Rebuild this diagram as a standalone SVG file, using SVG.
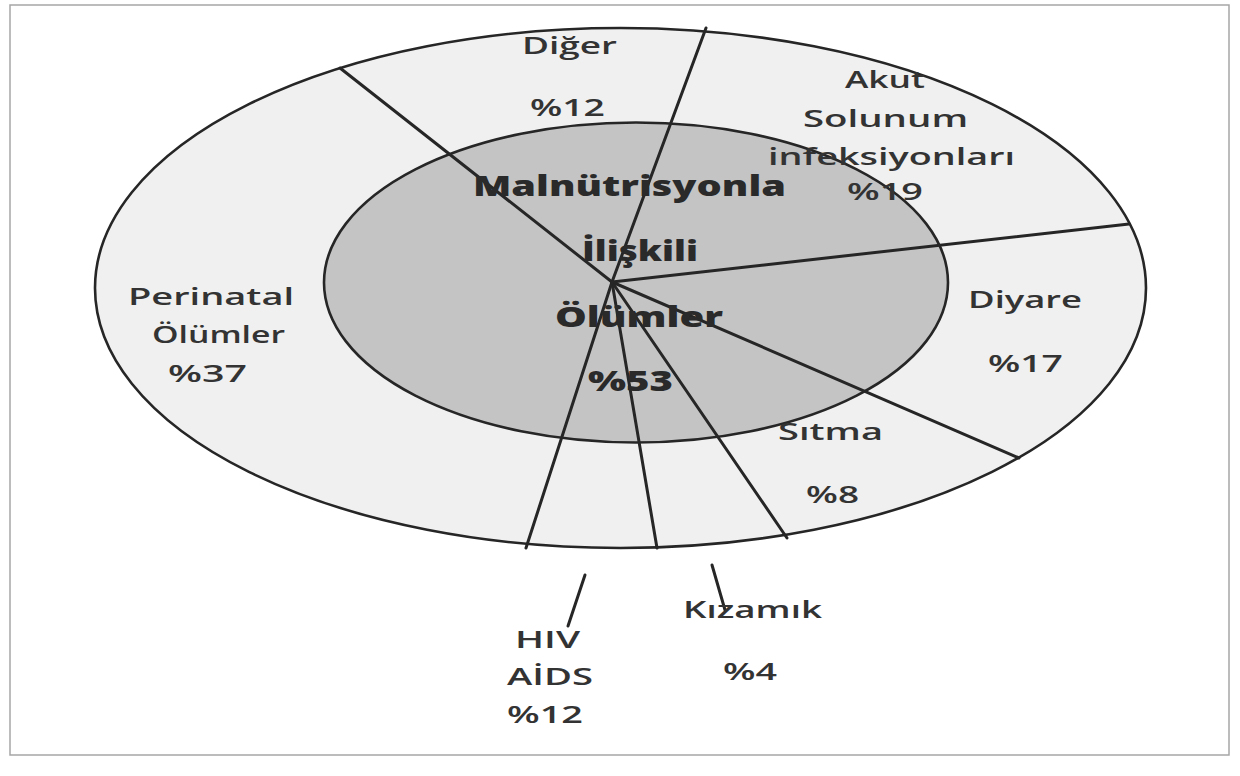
<svg xmlns="http://www.w3.org/2000/svg" width="1240" height="776" viewBox="0 0 1240 776">
  <style>
    .lbl { font-family: "Open Sans", "Noto Sans", "Liberation Sans", sans-serif; font-size: 24px; font-weight: 600; fill: #333333; }
    .bold { font-family: "Open Sans", "Noto Sans", "Liberation Sans", sans-serif; font-size: 29px; font-weight: 800; fill: #2a2a2a; }
    .sep { stroke: #262626; stroke-width: 3; fill: none; stroke-linecap: round; }
    .edge { stroke: #262626; stroke-width: 2.6; }
  </style>
  <rect x="0" y="0" width="1240" height="776" fill="#ffffff"/>
  <rect id="frame" x="10" y="5" width="1219" height="750" fill="#ffffff" stroke="#a6a6a6" stroke-width="1.5"/>

  <g id="outer-ring">
    <ellipse cx="620.5" cy="288" rx="525.5" ry="260" fill="#f0f0f0" class="edge"/>
  </g>
  <g id="inner-malnutrition">
    <ellipse cx="636" cy="282.5" rx="312" ry="160" fill="#c4c4c4" class="edge"/>
  </g>

  <g id="connectors">
    <line class="sep" x1="612" y1="282" x2="340" y2="68"/>
    <line class="sep" x1="612" y1="282" x2="706" y2="28"/>
    <line class="sep" x1="612" y1="282" x2="1129" y2="224"/>
    <line class="sep" x1="612" y1="282" x2="1019" y2="458"/>
    <line class="sep" x1="612" y1="282" x2="787" y2="538"/>
    <line class="sep" x1="612" y1="282" x2="657" y2="548"/>
    <line class="sep" x1="612" y1="282" x2="526" y2="548"/>
    <line class="sep" x1="585" y1="575" x2="568" y2="626"/>
    <line class="sep" x1="712" y1="565" x2="725" y2="610"/>
  </g>

  <g id="center-label">
    <text class="bold" x="473" y="196" textLength="313" lengthAdjust="spacingAndGlyphs">Malnütrisyonla</text>
    <text class="bold" x="582" y="261" textLength="116" lengthAdjust="spacingAndGlyphs">İlişkili</text>
    <text class="bold" x="555" y="327" textLength="168" lengthAdjust="spacingAndGlyphs">Ölümler</text>
    <text class="bold" x="588" y="391" textLength="85" lengthAdjust="spacingAndGlyphs">%53</text>
  </g>

  <g id="diger">
    <text class="lbl" x="522" y="54" textLength="95" lengthAdjust="spacingAndGlyphs">Diğer</text>
    <text class="lbl" x="530" y="116" textLength="75" lengthAdjust="spacingAndGlyphs">%12</text>
  </g>
  <g id="akut-solunum">
    <text class="lbl" x="845" y="88" textLength="80" lengthAdjust="spacingAndGlyphs">Akut</text>
    <text class="lbl" x="803" y="127" textLength="165" lengthAdjust="spacingAndGlyphs">Solunum</text>
    <text class="lbl" x="768" y="165" textLength="247" lengthAdjust="spacingAndGlyphs">infeksiyonları</text>
    <text class="lbl" x="847" y="200" textLength="76" lengthAdjust="spacingAndGlyphs">%19</text>
  </g>
  <g id="perinatal">
    <text class="lbl" x="128" y="305" textLength="166" lengthAdjust="spacingAndGlyphs">Perinatal</text>
    <text class="lbl" x="152" y="343" textLength="133" lengthAdjust="spacingAndGlyphs">Ölümler</text>
    <text class="lbl" x="168" y="382" textLength="79" lengthAdjust="spacingAndGlyphs">%37</text>
  </g>
  <g id="diyare">
    <text class="lbl" x="968" y="308" textLength="114" lengthAdjust="spacingAndGlyphs">Diyare</text>
    <text class="lbl" x="988" y="372" textLength="75" lengthAdjust="spacingAndGlyphs">%17</text>
  </g>
  <g id="sitma">
    <text class="lbl" x="778" y="440" textLength="105" lengthAdjust="spacingAndGlyphs">Sıtma</text>
    <text class="lbl" x="806" y="503" textLength="53" lengthAdjust="spacingAndGlyphs">%8</text>
  </g>
  <g id="kizamik">
    <text class="lbl" x="683" y="618" textLength="139" lengthAdjust="spacingAndGlyphs">Kızamık</text>
    <text class="lbl" x="723" y="680" textLength="54" lengthAdjust="spacingAndGlyphs">%4</text>
  </g>
  <g id="hiv-aids">
    <text class="lbl" x="515" y="648" textLength="65" lengthAdjust="spacingAndGlyphs">HIV</text>
    <text class="lbl" x="507" y="685" textLength="86" lengthAdjust="spacingAndGlyphs">AİDS</text>
    <text class="lbl" x="507" y="723" textLength="76" lengthAdjust="spacingAndGlyphs">%12</text>
  </g>
</svg>
